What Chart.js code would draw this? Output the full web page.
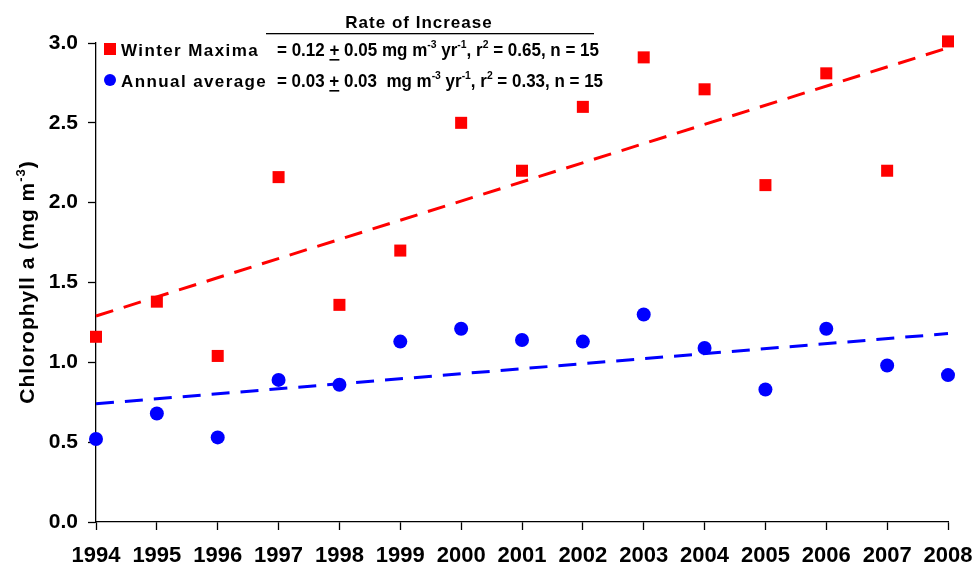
<!DOCTYPE html>
<html>
<head>
<meta charset="utf-8">
<script src="https://cdn.jsdelivr.net/npm/chart.js@4.4.1/dist/chart.umd.min.js"></script>
<style>
  html, body { margin: 0; padding: 0; background: #fff; }
  #wrap { width: 976px; height: 567px; position: relative; }
</style>
</head>
<body>
<div id="wrap"><canvas id="myChart"></canvas></div>
<script>
var years = [1994,1995,1996,1997,1998,1999,2000,2001,2002,2003,2004,2005,2006,2007,2008];
var winterMaxima = [1.16,1.38,1.04,2.16,1.36,1.70,2.50,2.20,2.60,2.91,2.71,2.11,2.81,2.20,3.01];
var annualAverage = [0.52,0.68,0.53,0.89,0.86,1.13,1.21,1.14,1.13,1.30,1.09,0.83,1.21,0.98,0.92];
// trend line ends (1994, 2008)
var trendYears = [1994, 2008];
var winterTrend = [1.29, 2.97];
var annualTrend = [0.74, 1.18];
var yTicks = [0.0, 0.5, 1.0, 1.5, 2.0, 2.5, 3.0];

function pts(xs, ys) {
    return xs.map(function(x, i){ return {x: x, y: ys[i]}; });
}

var RED = '#FF0000';
var BLUE = '#0000FF';
var SANS = '"Liberation Sans", Arial, sans-serif';

// draws a run of text pieces, some superscript / underlined, squeezed to a width
function drawPieces(ctx, pieces, x, y, size, family, targetW) {
    var sup = Math.round(size * 0.62);
    var w = 0;
    pieces.forEach(function(p){
        ctx.font = 'bold ' + (p.sup ? sup : size) + 'px ' + family;
        p.w = ctx.measureText(p.t).width;
        w += p.w;
    });
    var sx = targetW ? targetW / w : 1;
    ctx.save();
    ctx.translate(x, y);
    ctx.scale(sx, 1);
    var cx = 0;
    pieces.forEach(function(p){
        ctx.font = 'bold ' + (p.sup ? sup : size) + 'px ' + family;
        ctx.fillText(p.t, cx, p.sup ? -size * 0.42 : 0);
        if (p.u) {
            ctx.fillRect(cx, 3, p.w, 1.6);
        }
        cx += p.w;
    });
    ctx.restore();
}

var annotations = {
    id: 'annotations',
    afterDraw: function(chart) {
        var ctx = chart.ctx;
        ctx.save();
        ctx.fillStyle = '#000';
        ctx.textBaseline = 'alphabetic';
        ctx.textAlign = 'left';

        // header
        ctx.letterSpacing = '1px';
        ctx.font = 'bold 17px ' + SANS;
        var hw = ctx.measureText('Rate of Increase').width;
        ctx.fillText('Rate of Increase', 419 - hw / 2, 28);
        ctx.fillRect(266, 33, 328, 1.3);

        // legend markers
        ctx.fillStyle = RED;
        ctx.fillRect(104, 43, 12, 12);
        ctx.fillStyle = BLUE;
        ctx.beginPath();
        ctx.arc(110, 80, 6, 0, Math.PI * 2);
        ctx.fill();

        ctx.fillStyle = '#000';
        ctx.letterSpacing = '1.4px';
        ctx.font = 'bold 17px ' + SANS;
        ctx.fillText('Winter Maxima', 121, 56);
        ctx.fillText('Annual average', 121, 87);
        ctx.letterSpacing = '0px';

        var fam = '"Liberation Sans Narrow", ' + SANS;
        drawPieces(ctx, [
            {t: '= 0.12 '}, {t: '+', u: true}, {t: ' 0.05 mg m'}, {t: '-3', sup: true},
            {t: ' yr'}, {t: '-1', sup: true}, {t: ', r'}, {t: '2', sup: true},
            {t: ' = 0.65, n = 15'}
        ], 277, 56, 18, fam, 322);
        drawPieces(ctx, [
            {t: '= 0.03 '}, {t: '+', u: true}, {t: ' 0.03  mg m'}, {t: '-3', sup: true},
            {t: ' yr'}, {t: '-1', sup: true}, {t: ', r'}, {t: '2', sup: true},
            {t: ' = 0.33, n = 15'}
        ], 277, 87, 18, fam, 326);

        // y axis title
        ctx.translate(34, 282);
        ctx.rotate(-Math.PI / 2);
        ctx.letterSpacing = '1px';
        var tf = 'bold 21px ' + SANS;
        var sf = 'bold 13px ' + SANS;
        ctx.font = tf;
        var a = ctx.measureText('Chlorophyll a (mg m').width;
        var c = ctx.measureText(')').width;
        ctx.font = sf;
        var b = ctx.measureText('-3').width;
        var sx = -(a + b + c) / 2;
        ctx.font = tf;
        ctx.fillText('Chlorophyll a (mg m', sx, 0);
        ctx.font = sf;
        ctx.fillText('-3', sx + a, -9);
        ctx.font = tf;
        ctx.fillText(')', sx + a + b, 0);
        ctx.restore();
    }
};

var ctx = document.getElementById('myChart');

var myChart = new Chart(ctx, {
    type: 'scatter',
    data: {
        datasets: [
            {
                label: 'Winter Maxima',
                data: pts(years, winterMaxima),
                pointStyle: 'rect',
                pointRadius: 8.5,
                pointBorderWidth: 0,
                backgroundColor: RED,
                borderColor: RED,
                clip: false,
                order: 1
            },
            {
                label: 'Annual average',
                data: pts(years, annualAverage),
                pointStyle: 'circle',
                pointRadius: 7,
                pointBorderWidth: 0,
                backgroundColor: BLUE,
                borderColor: BLUE,
                clip: false,
                order: 1
            },
            {
                label: 'Winter trend',
                data: pts(trendYears, winterTrend),
                showLine: true,
                pointRadius: 0,
                borderColor: RED,
                borderWidth: 3,
                borderDash: [18, 11],
                clip: false,
                order: 2
            },
            {
                label: 'Annual trend',
                data: pts(trendYears, annualTrend),
                showLine: true,
                pointRadius: 0,
                borderColor: BLUE,
                borderWidth: 3,
                borderDash: [18, 11],
                clip: false,
                order: 2
            }
        ]
    },
    options: {
        responsive: true,
        maintainAspectRatio: false,
        animation: false,
        layout: { padding: { left: 0, right: 28, top: 43, bottom: 0 } },
        plugins: {
            legend: { display: false },
            tooltip: { enabled: false }
        },
        scales: {
            x: {
                type: 'linear',
                min: 1994,
                max: 2008,
                ticks: {
                    stepSize: 1,
                    color: '#000',
                    font: { family: SANS, size: 22, weight: 'bold' },
                    padding: 13,
                    maxRotation: 0,
                    autoSkip: false,
                    callback: function(v) { return String(v); }
                },
                grid: {
                    drawOnChartArea: false,
                    color: '#000',
                    tickLength: 8,
                    tickWidth: 1.3
                },
                border: { color: '#000', width: 1.3 },
                afterFit: function(scale) {
                    scale.height = 45;
                    scale.paddingLeft = 0;
                    scale.paddingRight = 0;
                }
            },
            y: {
                min: 0,
                max: 3,
                afterBuildTicks: function(scale) {
                    scale.ticks = yTicks.map(function(v){ return {value: v}; });
                },
                ticks: {
                    color: '#000',
                    font: { family: SANS, size: 21, weight: 'bold' },
                    padding: 10,
                    callback: function(v) { return v.toFixed(1); }
                },
                grid: {
                    drawOnChartArea: false,
                    color: '#000',
                    tickLength: 8,
                    tickWidth: 1.3
                },
                border: { color: '#000', width: 1.3 },
                afterFit: function(scale) {
                    scale.width = 96;
                    scale.paddingTop = 0;
                    scale.paddingBottom = 0;
                }
            }
        }
    },
    plugins: [annotations]
});
</script>
</body>
</html>
